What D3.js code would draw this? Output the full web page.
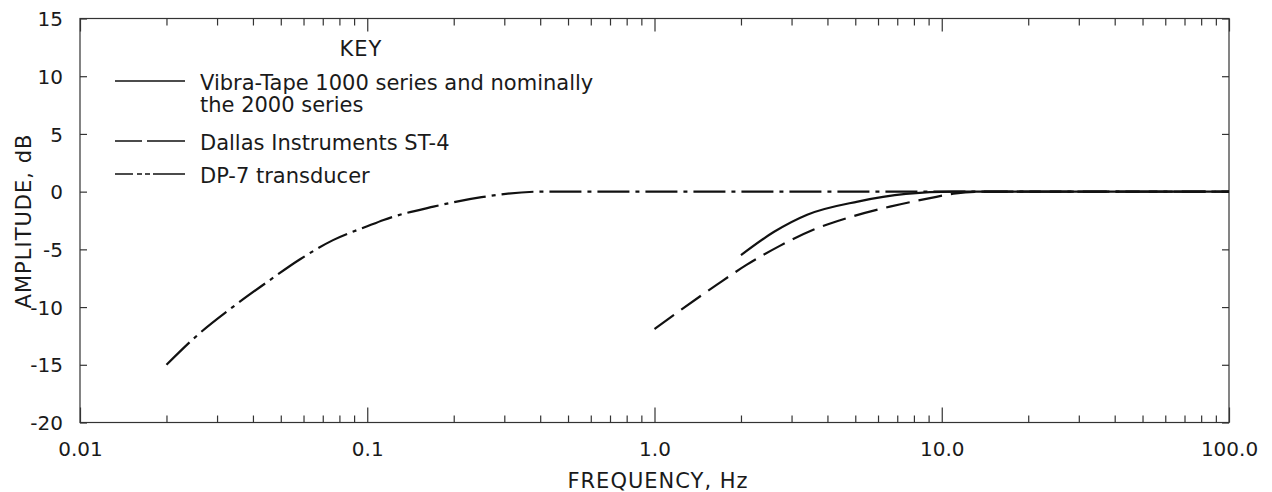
<!DOCTYPE html>
<html>
<head>
<meta charset="utf-8">
<script src="https://cdn.jsdelivr.net/npm/d3@7"></script>
<style>
  body { margin: 0; background: #fff; }
  svg text { font-family: 'DejaVu Sans', sans-serif; fill: #1a1a1a; }
</style>
</head>
<body>
<div class="chart"></div>
<script>
const width = 1272;
const height = 492;
const margin = { left: 80, right: 43, top: 18.5, bottom: 69.5 };

// axes
const freqTicks = [0.01, 0.1, 1, 10, 100];
const freqTickLabels = ['0.01', '0.1', '1.0', '10.0', '100.0'];
const ampTicks = [-20, -15, -10, -5, 0, 5, 10, 15];

// Vibra-Tape 1000 series (solid)
const vibraFreq = [2.0, 2.6, 3.4, 5.1, 7.5, 11, 100];
const vibraAmp = [-5.5, -3.5, -2.0, -0.86, -0.2, 0, 0];

// Dallas Instruments ST-4 (long dash)
const dallasFreq = [1.0, 1.64, 2.09, 2.73, 3.57, 4.67, 6.6, 9.1, 11.2, 14, 100];
const dallasAmp = [-11.9, -8.1, -6.35, -4.7, -3.3, -2.3, -1.3, -0.56, -0.15, 0, 0];

// DP-7 transducer (dash-dot)
const dp7Freq = [0.02, 0.026, 0.034, 0.045, 0.058, 0.076, 0.1, 0.114, 0.17, 0.25, 0.4, 100];
const dp7Amp = [-15, -12.3, -10.0, -7.8, -5.9, -4.2, -3.0, -2.45, -1.3, -0.48, 0, 0];

const legendLabels = [
  ['Vibra-Tape 1000 series and nominally', 'the 2000 series'],
  ['Dallas Instruments ST-4'],
  ['DP-7 transducer']
];

createChart();

function createChart() {
  const svg = d3.select('.chart')
    .append('svg')
    .attr('width', width)
    .attr('height', height);

  const x = d3.scaleLog()
    .domain([0.01, 100])
    .range([margin.left, width - margin.right]);
  const y = d3.scaleLinear()
    .domain([-20, 15])
    .range([height - margin.bottom, margin.top]);

  const x0 = x.range()[0], x1 = x.range()[1];
  const y0 = y.range()[0], y1 = y.range()[1];
  const minorTicks = x.ticks().filter(t => !freqTicks.some(m => Math.abs(m - t) < t * 1e-6));

  // frame
  svg.append('rect')
    .attr('x', x0).attr('y', y1)
    .attr('width', x1 - x0).attr('height', y0 - y1)
    .attr('fill', 'none')
    .attr('stroke', '#333')
    .attr('stroke-width', 1.2);

  // bottom axis
  svg.append('g')
    .attr('transform', `translate(0, ${y0})`)
    .call(d3.axisBottom(x).tickValues(minorTicks).tickSize(-7).tickFormat(''));
  svg.append('g')
    .attr('class', 'x-major')
    .attr('transform', `translate(0, ${y0})`)
    .call(d3.axisBottom(x).tickValues(freqTicks).tickSizeInner(-15).tickSizeOuter(0)
      .tickPadding(19).tickFormat((d, i) => freqTickLabels[i]));

  // top axis
  svg.append('g')
    .attr('transform', `translate(0, ${y1})`)
    .call(d3.axisTop(x).tickValues(minorTicks).tickSize(-7).tickFormat(''));
  svg.append('g')
    .attr('transform', `translate(0, ${y1})`)
    .call(d3.axisTop(x).tickValues(freqTicks).tickSize(-13).tickFormat(''));

  // left / right axes
  svg.append('g')
    .attr('class', 'y-left')
    .attr('transform', `translate(${x0}, 0)`)
    .call(d3.axisLeft(y).tickValues(ampTicks).tickSizeInner(-7).tickSizeOuter(0).tickPadding(17)
      .tickFormat(d => d < 0 ? '-' + Math.abs(d) : d));
  svg.append('g')
    .attr('transform', `translate(${x1}, 0)`)
    .call(d3.axisRight(y).tickValues(ampTicks).tickSize(-7).tickFormat(''));

  svg.selectAll('.domain').remove();
  svg.selectAll('.tick line').attr('stroke', '#333').attr('stroke-width', 1.2);
  svg.selectAll('.x-major text').style('font-size', '20px').attr('fill', '#1a1a1a');
  svg.selectAll('.y-left text').style('font-size', '20px').attr('fill', '#1a1a1a').attr('dy', '0.36em');

  // axis titles
  svg.append('text')
    .attr('transform', `translate(31, 221) rotate(-90)`)
    .attr('text-anchor', 'middle')
    .style('font-size', '21px')
    .style('letter-spacing', '1px')
    .text('AMPLITUDE, dB');

  svg.append('text')
    .attr('x', 658)
    .attr('y', 488)
    .attr('text-anchor', 'middle')
    .style('font-size', '21px')
    .style('letter-spacing', '1px')
    .text('FREQUENCY, Hz');

  // curves
  const line = d3.line()
    .x(d => x(d[0]))
    .y(d => y(d[1]))
    .curve(d3.curveMonotoneX);

  const series = [
    { f: dp7Freq, a: dp7Amp, dash: '32,6,4,6' },
    { f: dallasFreq, a: dallasAmp, dash: '24,9' },
    { f: vibraFreq, a: vibraAmp, dash: null }
  ];

  svg.selectAll('path.curve')
    .data(series)
    .enter()
    .append('path')
    .attr('class', 'curve')
    .attr('d', s => line(s.f.map((f, i) => [f, s.a[i]])))
    .attr('fill', 'none')
    .attr('stroke', '#111')
    .attr('stroke-width', 2.2)
    .attr('stroke-dasharray', s => s.dash);

  // key
  svg.append('text')
    .attr('x', 361)
    .attr('y', 56)
    .attr('text-anchor', 'middle')
    .style('font-size', '21px')
    .style('letter-spacing', '1px')
    .text('KEY');

  const keyDash = [null, '27,5,38', '18,4,5,3,5,3,32'];
  const keyBaseline = [90, 150, 183];

  legendLabels.forEach((lines, i) => {
    svg.append('line')
      .attr('x1', 115).attr('x2', 185)
      .attr('y1', keyBaseline[i] - 9).attr('y2', keyBaseline[i] - 9)
      .attr('stroke', '#111')
      .attr('stroke-width', 1.5)
      .attr('stroke-dasharray', keyDash[i]);
    lines.forEach((t, j) => {
      svg.append('text')
        .attr('x', 200)
        .attr('y', keyBaseline[i] + j * 22)
        .style('font-size', '21px')
        .text(t);
    });
  });
}
</script>
</body>
</html>
